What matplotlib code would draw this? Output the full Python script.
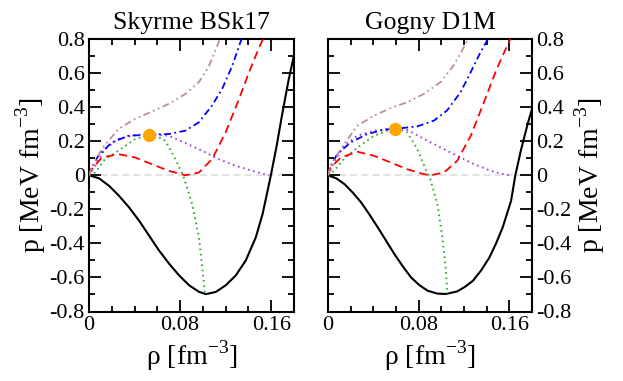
import numpy as np
import matplotlib
matplotlib.use('Agg')
import matplotlib.pyplot as plt
from matplotlib.ticker import MultipleLocator, FuncFormatter

plt.rcParams['font.family'] = ['Liberation Serif', 'DejaVu Serif']
plt.rcParams['mathtext.fontset'] = 'custom'
plt.rcParams['mathtext.rm'] = 'Liberation Serif'
plt.rcParams['axes.unicode_minus'] = False
plt.rcParams['lines.scale_dashes'] = False

titles = ['Skyrme BSk17', 'Gogny D1M']

# ---- Skyrme BSk17 (left) ----
rho_black_L = [0, .0088, .0176, .0264, .0352, .044, .0527, .0615, .0703, .0791, .0879, .0967, .1026,
               .1114, .1201, .1289, .1377, .1465, .1524, .1568, .1597, .1647, .1694, .1752, .18]
p_black_L = [0, -.018, -.062, -.121, -.189, -.267, -.354, -.442, -.519, -.588, -.646, -.685, -.698,
             -.685, -.646, -.588, -.500, -.364, -.228, -.091, 0, .170, .350, .557, .705]

rho_green_L = [0, .0053, .014, .0259, .0406, .0529, .060, .067, .0759, .0826, .0906, .0965, .0994, .1018]
p_green_L = [0, .016, .094, .144, .213, .236, .228, .203, .094, 0, -.169, -.364, -.539, -.69]

rho_purple_L = [0, .0053, .014, .0259, .0406, .0553, .070, .0847, .0994, .114, .129, .1435, .155, .158]
p_purple_L = [0, .055, .154, .213, .236, .242, .232, .189, .144, .094, .055, .026, .004, 0]

rho_blue_L = [0, .0024, .0082, .020, .0347, .0524, .070, .0847, .0965, .108, .117, .126, .133, .135]
p_blue_L = [0, .045, .114, .193, .232, .238, .242, .262, .311, .409, .508, .646, .783, .82]

rho_red_L = [0, .0024, .0112, .0259, .0406, .0553, .070, .0847, .0965, .108, .120, .1318, .1406, .149, .153]
p_red_L = [0, .035, .104, .124, .104, .065, .026, 0, .016, .094, .252, .449, .606, .744, .803]

rho_rosy_L = [0, .0024, .0112, .0259, .0406, .0553, .070, .0847, .0965, .105, .114, .116]
p_rosy_L = [0, .045, .154, .272, .331, .374, .419, .478, .547, .636, .783, .82]

crit_L = (0.0529, 0.236)

# ---- Gogny D1M (right) ----
rho_black_R = [0, .0073, .0147, .022, .0293, .0367, .0440, .0513, .0586, .066, .0733, .0806, .0879, .0965, .1043,
               .114, .1209, .1278, .135, .1424, .1483, .1541, .1615, .1653, .1702, .1761, .18]
p_black_R = [0, -.018, -.053, -.103, -.160, -.232, -.307, -.385, -.463, -.535, -.600, -.645, -.678, -.695, -.697,
             -.682, -.655, -.620, -.560, -.483, -.400, -.307, -.151, 0, .146, .299, .390]

rho_green_R = [0, .0053, .014, .0259, .0406, .0553, .0588, .064, .070, .0788, .0862, .0906, .0965, .1009, .1038, .1053]
p_green_R = [0, .026, .094, .163, .232, .268, .272, .268, .252, .154, .035, -.030, -.169, -.364, -.539, -.695]

rho_purple_R = [0, .0053, .014, .0259, .0406, .0553, .070, .0847, .0994, .114, .129, .1435, .155, .161]
p_purple_R = [0, .075, .173, .232, .262, .272, .266, .213, .163, .114, .065, .026, .006, 0]

rho_blue_R = [0, .0024, .0082, .020, .0347, .0494, .0641, .0788, .0935, .105, .117, .126, .1347, .1406, .142]
p_blue_R = [0, .055, .124, .193, .242, .268, .276, .287, .321, .380, .488, .606, .724, .793, .82]

rho_red_R = [0, .0024, .0112, .0259, .0406, .0553, .070, .0847, .0906, .1024, .114, .126, .1376, .149, .157, .161]
p_red_R = [0, .045, .104, .138, .114, .075, .035, .006, 0, .016, .085, .232, .429, .626, .744, .803]

rho_rosy_R = [0, .0024, .0112, .0259, .0406, .0553, .070, .0847, .0994, .111, .120, .123, .124]
p_rosy_R = [0, .055, .154, .291, .350, .394, .429, .478, .547, .646, .754, .793, .82]

crit_R = (0.0588, 0.272)

panels = [
    dict(black=(rho_black_L, p_black_L), green=(rho_green_L, p_green_L), purple=(rho_purple_L, p_purple_L),
         blue=(rho_blue_L, p_blue_L), red=(rho_red_L, p_red_L), rosy=(rho_rosy_L, p_rosy_L), crit=crit_L),
    dict(black=(rho_black_R, p_black_R), green=(rho_green_R, p_green_R), purple=(rho_purple_R, p_purple_R),
         blue=(rho_blue_R, p_blue_R), red=(rho_red_R, p_red_R), rosy=(rho_rosy_R, p_rosy_R), crit=crit_R),
]

fig = plt.figure(figsize=(6.23, 3.81), dpi=100)
W, H = 623, 381
boxes = [(89, 294), (328, 532)]
top, bot = 39, 311.5

yfmt = FuncFormatter(lambda v, pos: '0' if abs(v) < 1e-9 else '%.1f' % v)
xfmt = FuncFormatter(lambda v, pos: '0' if abs(v) < 1e-9 else '%.2f' % v)

for i, (x0, x1) in enumerate(boxes):
    ax = fig.add_axes([x0 / W, 1 - bot / H, (x1 - x0) / W, (bot - top) / H])
    d = panels[i]
    ax.axhline(0, color='#dddddd', lw=1.2, dashes=(5, 3), zorder=1)
    ax.plot(*d['black'], color='black', lw=1.5, zorder=3)
    ax.plot(*d['green'], color='#33aa33', lw=1.4, dashes=(1.2, 2.6), zorder=3)
    ax.plot(*d['purple'], color='#a040f0', lw=1.4, dashes=(1.2, 2.6), zorder=3)
    ax.plot(*d['blue'], color='#0000ff', lw=1.3, dashes=(5, 2.5, 1.3, 2.5), zorder=3)
    ax.plot(*d['red'], color='#ff0000', lw=1.3, dashes=(6, 3.5), zorder=3)
    ax.plot(*d['rosy'], color='#bc8f8f', lw=1.3, dashes=(5, 2.5, 1.3, 2.5, 1.3, 2.5), zorder=3)
    ax.plot([d['crit'][0]], [d['crit'][1]], 'o', color='#ffa500', ms=8.5, mec='#ffa500', zorder=5)

    ax.set_xlim(0, 0.18)
    ax.set_ylim(-0.8, 0.8)
    ax.xaxis.set_major_locator(MultipleLocator(0.08))
    ax.xaxis.set_minor_locator(MultipleLocator(0.02))
    ax.yaxis.set_major_locator(MultipleLocator(0.2))
    ax.yaxis.set_minor_locator(MultipleLocator(0.1))
    ax.xaxis.set_major_formatter(xfmt)
    ax.yaxis.set_major_formatter(yfmt)
    ax.tick_params(which='both', direction='in', top=True, right=True, left=True, bottom=True,
                   width=1.3, labelsize=16)
    ax.tick_params(which='major', length=8.5, pad=3)
    ax.tick_params(which='minor', length=4.5)
    for s in ax.spines.values():
        s.set_linewidth(1.5)
    ax.set_title(titles[i], fontsize=18.5, pad=7)
    ax.set_xlabel(r'ρ [fm$^{-3}$]', fontsize=20, labelpad=3)
    ax.set_ylabel(r'p [MeV fm$^{-3}$]', fontsize=20, labelpad=1)
    if i == 1:
        ax.tick_params(labelleft=False, labelright=True)
        ax.yaxis.set_label_position('right')

fig.savefig('out.png', dpi=100)
